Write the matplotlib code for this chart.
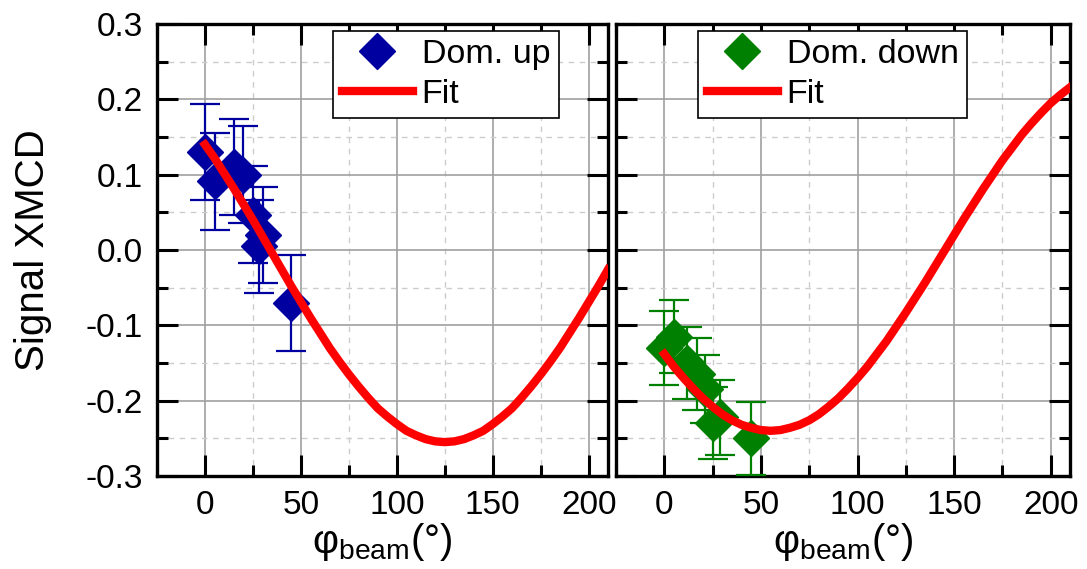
import numpy as np
import matplotlib
matplotlib.use("Agg")
import matplotlib.pyplot as plt
from matplotlib.ticker import MultipleLocator, FormatStrFormatter

plt.rcParams['font.family'] = ['Liberation Sans', 'DejaVu Sans']
plt.rcParams['mathtext.fontset'] = 'custom'
plt.rcParams['mathtext.rm'] = 'Liberation Sans'
plt.rcParams['mathtext.it'] = 'Liberation Sans:italic'
plt.rcParams['axes.unicode_minus'] = False

# Domain up data (phi_beam in deg, XMCD signal, error)
up_phi = [0, 5, 15, 20, 25, 28, 30, 45]
up_sig = [0.130, 0.091, 0.110, 0.100, 0.047, 0.005, 0.020, -0.070]
up_err = [0.064, 0.064, 0.064, 0.064, 0.064, 0.062, 0.064, 0.064]

# Domain down data
down_phi = [0, 5, 12, 17, 21, 25, 29, 45]
down_sig = [-0.130, -0.115, -0.150, -0.165, -0.185, -0.230, -0.222, -0.250]
down_err = [0.049, 0.048, 0.048, 0.048, 0.045, 0.048, 0.050, 0.048]

# Fit curves, every 5 deg
fit_phi = list(range(0, 215, 5))
fit_up = [0.140, 0.122, 0.102, 0.082, 0.061, 0.040, 0.018, -0.004, -0.026, -0.048,
          -0.069, -0.090, -0.110, -0.130, -0.148, -0.165, -0.181, -0.196, -0.210,
          -0.221, -0.231, -0.240, -0.246, -0.251, -0.254, -0.255, -0.254, -0.251,
          -0.246, -0.240, -0.231, -0.221, -0.210, -0.196, -0.181, -0.165, -0.148,
          -0.130, -0.110, -0.090, -0.069, -0.048, -0.026]
fit_down = [-0.138, -0.155, -0.170, -0.184, -0.197, -0.208, -0.218, -0.226, -0.232,
            -0.236, -0.239, -0.240, -0.239, -0.236, -0.232, -0.226, -0.218, -0.208,
            -0.197, -0.184, -0.170, -0.155, -0.138, -0.121, -0.102, -0.083, -0.063,
            -0.043, -0.022, -0.001, 0.020, 0.041, 0.061, 0.081, 0.100, 0.119, 0.136,
            0.153, 0.168, 0.182, 0.195, 0.206, 0.216]

fig = plt.figure(figsize=(10.87, 5.69), dpi=100)
ax1 = fig.add_axes([0.1444, 0.1634, 0.4149, 0.7944])
ax2 = fig.add_axes([0.5667, 0.1634, 0.4177, 0.7944])


def style(ax):
    ax.set_xlim(-25, 210)
    ax.set_ylim(-0.3, 0.3)
    ax.xaxis.set_major_locator(MultipleLocator(50))
    ax.xaxis.set_minor_locator(MultipleLocator(25))
    ax.yaxis.set_major_locator(MultipleLocator(0.1))
    ax.yaxis.set_minor_locator(MultipleLocator(0.05))
    ax.grid(True, which='major', color='#a0a0a0', lw=1.2)
    ax.grid(True, which='minor', color='#cccccc', lw=1.0, ls=(0, (4, 4)))
    ax.set_axisbelow(True)
    ax.tick_params(which='both', direction='in', top=True, right=True,
                   width=2.2, labelsize=24, pad=10)
    ax.tick_params(which='major', length=15)
    ax.tick_params(which='minor', length=8)
    for s in ax.spines.values():
        s.set_linewidth(2.4)
    ax.set_xlabel('φ$_{\\mathrm{beam}}$(°)', fontsize=29, labelpad=0)


style(ax1)
style(ax2)

legend_kw = dict(fontsize=24.5, frameon=True, fancybox=False, edgecolor='black',
                 framealpha=1, handlelength=2.1, handletextpad=0.25,
                 labelspacing=0.25, borderpad=0.25, borderaxespad=0, numpoints=1)

ax1.errorbar(up_phi, up_sig, yerr=up_err, fmt='none', ecolor='#0000a0',
             elinewidth=1.6, capsize=11, capthick=1.6, zorder=3)
ax1.plot(up_phi, up_sig, ls='none', marker='D', ms=18, color='#0000a0',
         label='Dom. up', zorder=4)
ax1.plot(fit_phi, fit_up, color='#ff0000', lw=6, label='Fit', zorder=5)
ax1.yaxis.set_major_formatter(FormatStrFormatter('%.1f'))
ax1.set_ylabel('Signal XMCD', fontsize=29, labelpad=24)
leg1 = ax1.legend(loc='upper right', bbox_to_anchor=(0.891, 0.985), **legend_kw)
leg1.get_frame().set_linewidth(1.2)

ax2.errorbar(down_phi, down_sig, yerr=down_err, fmt='none', ecolor='#008000',
             elinewidth=1.6, capsize=11, capthick=1.6, zorder=3)
ax2.plot(down_phi, down_sig, ls='none', marker='D', ms=18, color='#008000',
         label='Dom. down', zorder=4)
ax2.plot(fit_phi, fit_down, color='#ff0000', lw=6, label='Fit', zorder=5)
ax2.tick_params(labelleft=False)
leg2 = ax2.legend(loc='upper left', bbox_to_anchor=(0.181, 0.985), **legend_kw)
leg2.get_frame().set_linewidth(1.2)

fig.savefig('out.png', dpi=100)
